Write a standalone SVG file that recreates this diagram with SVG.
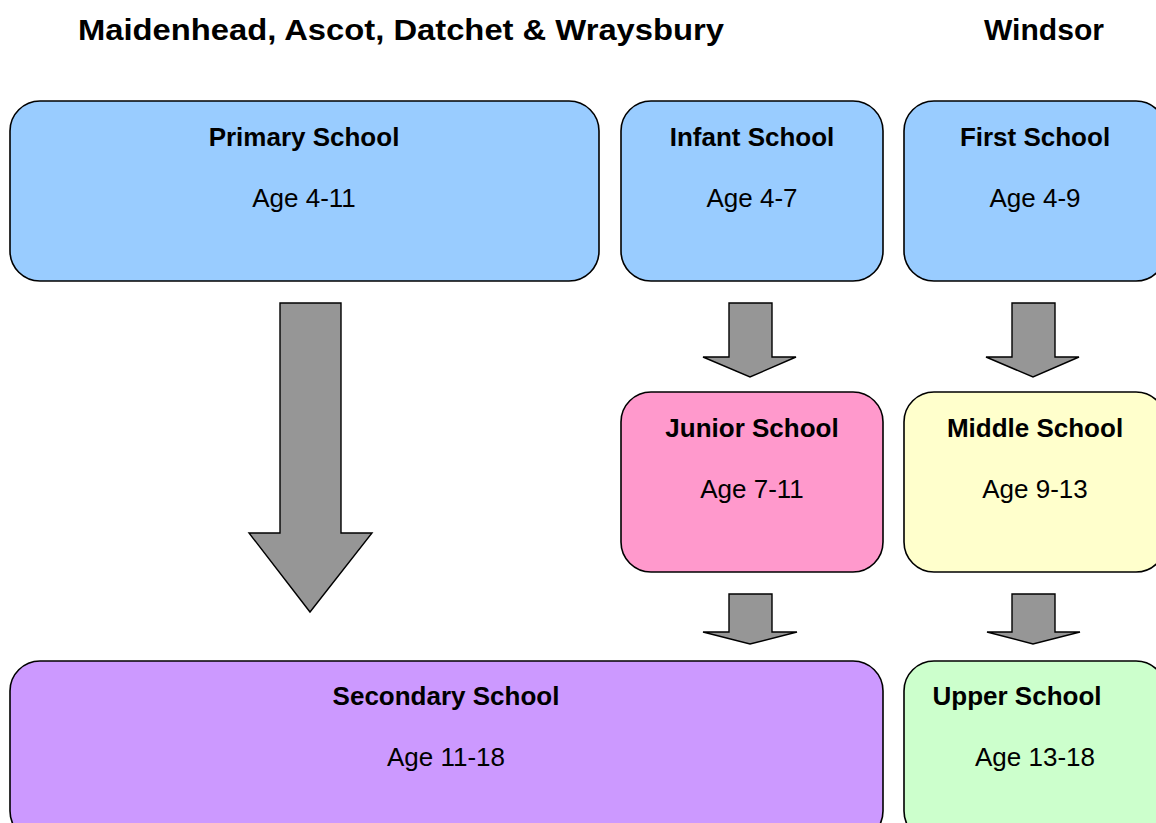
<svg xmlns="http://www.w3.org/2000/svg" width="1156" height="823" viewBox="0 0 1156 823">
<style>
.box{stroke:#000;stroke-width:1.6}
.arrow{fill:#969696;stroke:#000;stroke-width:1.4;stroke-linejoin:miter}
.hdr{font-family:"Liberation Sans",Arial,sans-serif;font-weight:bold;font-size:30px;fill:#000}
.t{font-family:"Liberation Sans",Arial,sans-serif;font-weight:bold;font-size:26px;fill:#000;text-anchor:middle}
.a{font-family:"Liberation Sans",Arial,sans-serif;font-size:26px;fill:#000;text-anchor:middle}
</style>
<rect width="1156" height="823" fill="#fff"/>
<g id="headers">
<text class="hdr" x="78" y="40" textLength="646" lengthAdjust="spacingAndGlyphs">Maidenhead, Ascot, Datchet &amp; Wraysbury</text>
<text class="hdr" x="984" y="40" textLength="120" lengthAdjust="spacingAndGlyphs">Windsor</text>
</g>
<g id="connectors">
<polygon class="arrow" points="280,303 341,303 341,533 372,533 310,612 249,533 280,533"/>
<polygon class="arrow" points="729,303 772,303 772,357 796,357 750,377 703,357 729,357"/>
<polygon class="arrow" points="1012,303 1055,303 1055,357 1079,357 1033,377 986,357 1012,357"/>
<polygon class="arrow" points="729,594 772,594 772,632 797,632 750,644 703,632 729,632"/>
<polygon class="arrow" points="1012,594 1055,594 1055,632 1080,632 1033,644 987,632 1012,632"/>
</g>
<g id="primary">
<rect class="box" x="10" y="101" width="589" height="180" rx="30" ry="30" fill="#99CCFF"/>
<text class="t" x="304" y="146">Primary School</text>
<text class="a" x="304" y="207">Age 4-11</text>
</g>
<g id="infant">
<rect class="box" x="621" y="101" width="262" height="180" rx="30" ry="30" fill="#99CCFF"/>
<text class="t" x="752" y="146">Infant School</text>
<text class="a" x="752" y="207">Age 4-7</text>
</g>
<g id="first">
<rect class="box" x="904" y="101" width="262" height="180" rx="30" ry="30" fill="#99CCFF"/>
<text class="t" x="1035" y="146">First School</text>
<text class="a" x="1035" y="207">Age 4-9</text>
</g>
<g id="junior">
<rect class="box" x="621" y="392" width="262" height="180" rx="30" ry="30" fill="#FF99CC"/>
<text class="t" x="752" y="437">Junior School</text>
<text class="a" x="752" y="498">Age 7-11</text>
</g>
<g id="middle">
<rect class="box" x="904" y="392" width="262" height="180" rx="30" ry="30" fill="#FFFFCC"/>
<text class="t" x="1035" y="437">Middle School</text>
<text class="a" x="1035" y="498">Age 9-13</text>
</g>
<g id="secondary">
<rect class="box" x="10" y="661" width="873" height="180" rx="30" ry="30" fill="#CC99FF"/>
<text class="t" x="446" y="705">Secondary School</text>
<text class="a" x="446" y="766">Age 11-18</text>
</g>
<g id="upper">
<rect class="box" x="904" y="661" width="262" height="180" rx="30" ry="30" fill="#CCFFCC"/>
<text class="t" x="1017" y="705">Upper School</text>
<text class="a" x="1035" y="766">Age 13-18</text>
</g>
</svg>
